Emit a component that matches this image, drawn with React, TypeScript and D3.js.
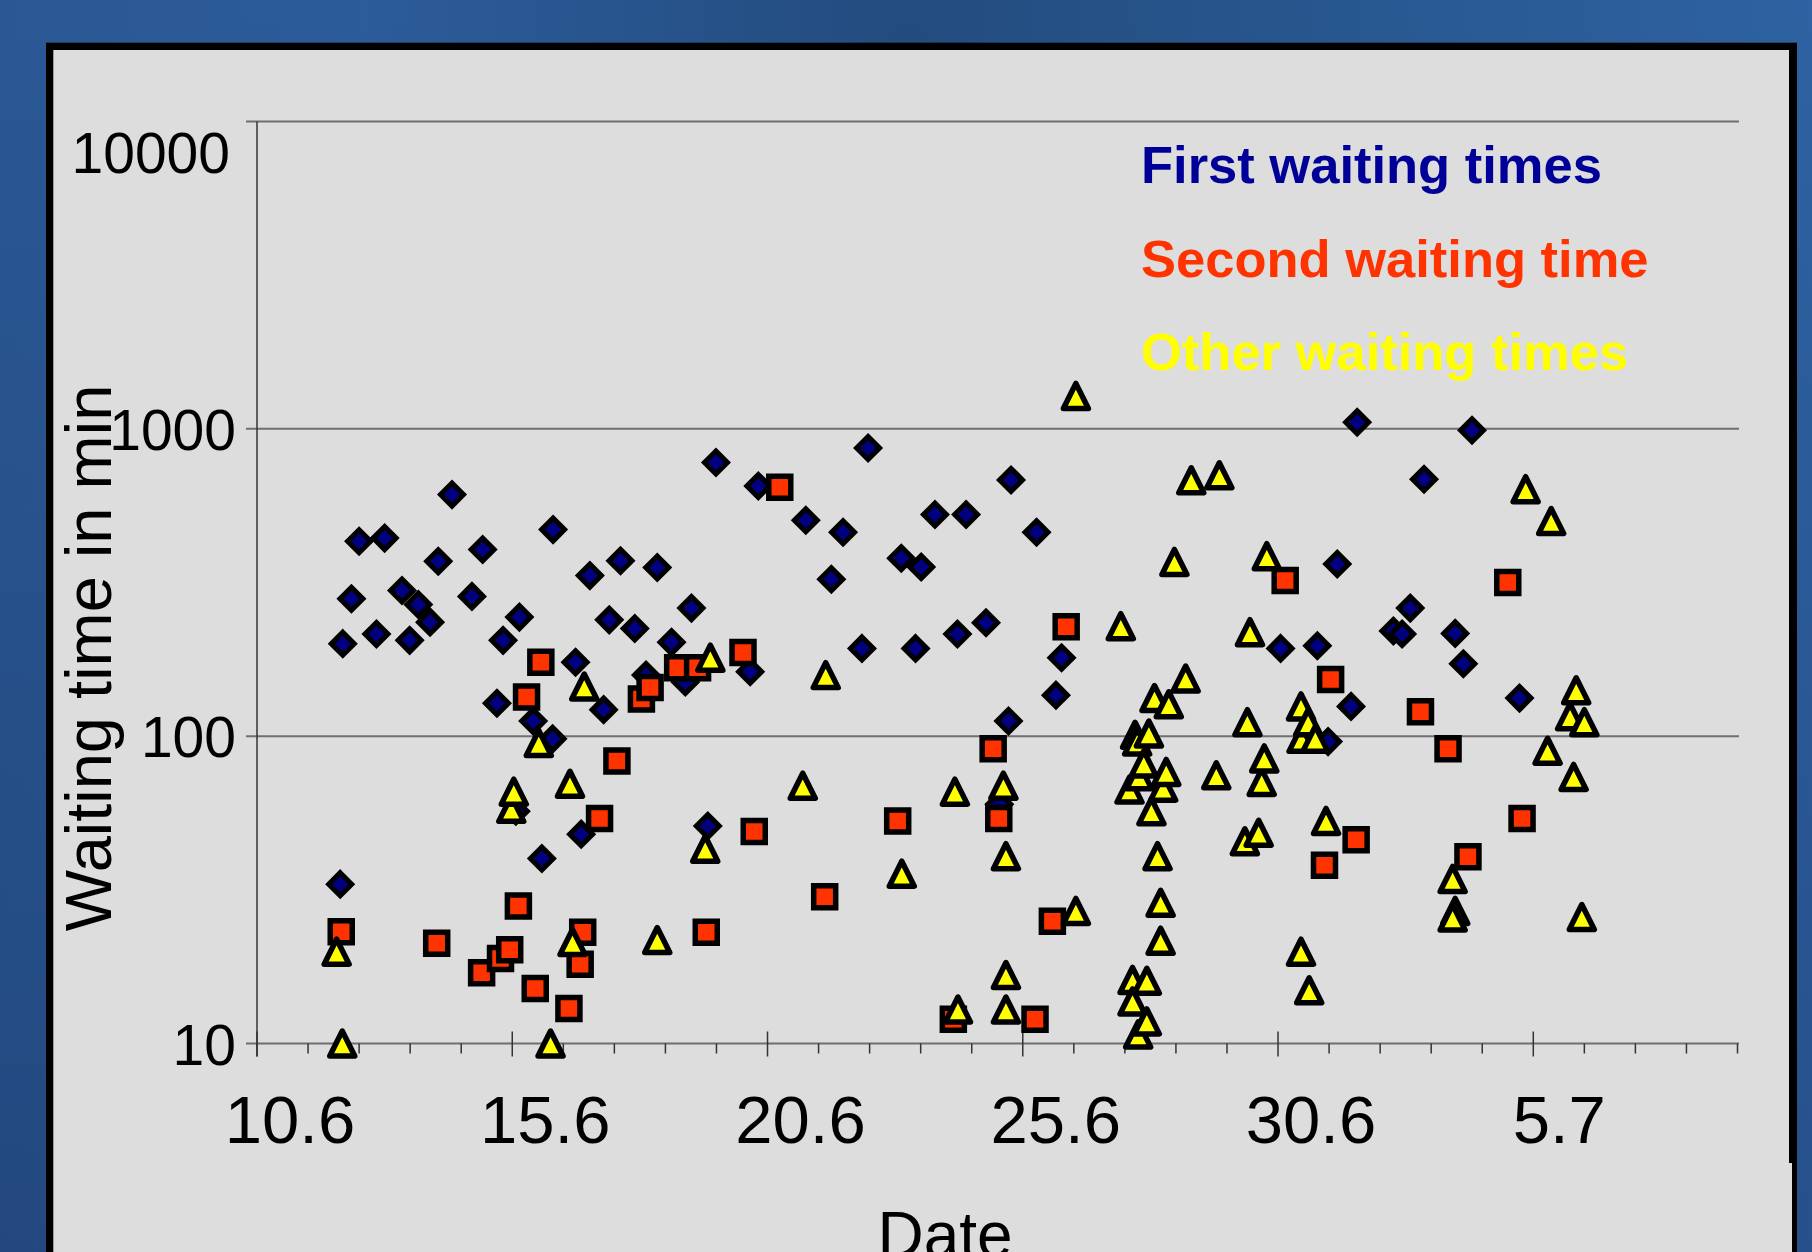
import * as d3 from 'd3';

// days counted from 1 June (35 = 5 July)
const dateTicks = [10, 15, 20, 25, 30, 35];
const dateLabels = ['10.6', '15.6', '20.6', '25.6', '30.6', '5.7'];
const valueTicks = [10, 100, 1000, 10000];
const valueLabels = ['10', '100', '1000', '10000'];

// [day, minutes]
const firstWaiting: [number, number][] = [
  [11.68, 200], [11.85, 280], [12.0, 431], [12.34, 215], [12.5, 441], [12.84, 298], [12.99, 205],
  [13.16, 268], [13.39, 235], [13.55, 371], [13.82, 611], [14.21, 285], [14.42, 405], [14.7, 128],
  [14.82, 205], [15.14, 244], [15.41, 112], [15.79, 98], [15.8, 470], [16.24, 174], [16.52, 333],
  [16.79, 122], [16.9, 239], [17.12, 372], [17.4, 224], [17.62, 158], [17.84, 354], [18.12, 202],
  [18.39, 150], [18.51, 261], [18.99, 777], [19.66, 162], [19.82, 652], [20.75, 504], [21.25, 324],
  [21.48, 461], [21.85, 193], [21.97, 866], [22.62, 379], [22.9, 193], [23.01, 355], [23.28, 526],
  [23.72, 215], [23.89, 526], [24.28, 234], [24.72, 112], [24.77, 682], [25.27, 461], [25.65, 136],
  [25.76, 180], [24.54, 60], [11.63, 33], [15.07, 57], [15.58, 40], [16.35, 48], [18.83, 51],
  [30.05, 193], [30.77, 197], [30.98, 96], [31.16, 363], [31.43, 125], [31.55, 1051], [32.26, 220],
  [32.43, 215], [32.59, 261], [32.86, 685], [33.47, 216], [33.63, 172], [33.8, 990], [34.73, 133],
];

const secondWaiting: [number, number][] = [
  [11.65, 23.1], [13.52, 21.2], [14.4, 17], [14.77, 18.9], [14.95, 20.2], [15.12, 28], [15.28, 134],
  [15.45, 15.1], [15.56, 174], [16.11, 13], [16.33, 18.1], [16.38, 23], [16.71, 54], [17.05, 83],
  [17.53, 132], [17.7, 144], [18.24, 167], [18.63, 167], [18.8, 23], [19.52, 187], [19.74, 49],
  [20.24, 645], [21.12, 30], [22.55, 53], [23.64, 12], [24.42, 91], [24.53, 54], [25.24, 12],
  [25.58, 25], [25.85, 227], [30.14, 321], [30.91, 38], [31.03, 153], [31.53, 46], [32.79, 120],
  [33.33, 91], [33.72, 40.5], [34.5, 316], [34.78, 54],
];

const otherWaiting: [number, number][] = [
  [11.56, 19.9], [11.67, 10], [14.98, 58], [15.03, 66], [15.52, 95], [15.75, 10], [16.13, 70],
  [16.18, 21.4], [16.41, 145], [17.84, 21.7], [18.78, 43], [18.88, 180], [20.69, 69], [21.14, 158],
  [22.63, 35.7], [23.67, 66], [23.73, 12.9], [24.62, 69], [24.67, 40.7], [24.67, 16.7], [24.67, 12.9],
  [26.04, 1279], [26.04, 27], [26.92, 228], [27.09, 67], [27.15, 16.1], [27.15, 13.7], [27.2, 101],
  [27.24, 96], [27.26, 10.7], [27.28, 74], [27.37, 81.5], [27.43, 16], [27.43, 11.8], [27.47, 102],
  [27.52, 57], [27.58, 133], [27.64, 40.7], [27.7, 28.7], [27.7, 21.6], [27.75, 68], [27.81, 76.5],
  [27.86, 127], [27.97, 369], [28.19, 154], [28.3, 680], [28.79, 74.6], [28.85, 706], [29.35, 45.5],
  [29.4, 111], [29.45, 218], [29.62, 48.5], [29.68, 71], [29.73, 84.6], [29.78, 385], [30.45, 125],
  [30.45, 19.9], [30.46, 98], [30.59, 111], [30.61, 14.9], [30.73, 98], [30.94, 53], [33.42, 34.3],
  [33.47, 27], [33.42, 25.7], [34.85, 636], [35.35, 501], [35.28, 89.6], [35.72, 116], [35.79, 73.7],
  [35.84, 141], [35.95, 25.8], [36.0, 111],
];

const W = 1812;
const H = 1252;
const FONT = 'Liberation Sans, Arial, Helvetica, sans-serif';

const diamond = (r: number) => `M0,${-r}L${r},0L0,${r}L${-r},0Z`;
const square = (r: number) => `M${-r},${-r}H${r}V${r}H${-r}Z`;
const triangle = (r: number) => `M0,${-r}L${r},${r}L${-r},${r}Z`;

export default function App() {
  const x = d3.scaleLinear().domain([10, 39]).range([257, 1737.5]);
  const y = d3.scaleLog().domain([10, 10000]).range([1043.5, 121.5]);
  const minorDays = d3.range(10, 40).filter((d) => !dateTicks.includes(d));
  const axisY = y(10);
  const x0 = x(10);
  const x1 = 1739;

  const series = [
    { data: firstWaiting, path: diamond(11.5), fill: '#000080', sw: 5, join: 'miter' },
    { data: secondWaiting, path: square(11), fill: '#ff3300', sw: 5.5, join: 'miter' },
    { data: otherWaiting, path: triangle(12.5), fill: '#ffff00', sw: 5.5, join: 'round' },
  ];

  const legend = [
    { text: 'First waiting times', color: '#000099' },
    { text: 'Second waiting time', color: '#ff3300' },
    { text: 'Other waiting times', color: '#ffff00' },
  ];

  return (
    <div style={{ position: 'absolute', left: 0, top: 0, width: W, height: H, overflow: 'hidden' }}>
      <svg width={W} height={H} style={{ display: 'block' }} fontFamily={FONT}>
        <defs>
          <linearGradient id="bgH" x1="0" x2="1" y1="0" y2="0">
            <stop offset="0" stopColor="#2a5894" />
            <stop offset="0.2" stopColor="#2c5c9a" />
            <stop offset="0.5" stopColor="#234c7f" />
            <stop offset="0.75" stopColor="#285890" />
            <stop offset="1" stopColor="#2e62a2" />
          </linearGradient>
          <linearGradient id="bgV" x1="0" x2="0" y1="0" y2="1">
            <stop offset="0" stopColor="#000020" stopOpacity="0" />
            <stop offset="1" stopColor="#000020" stopOpacity="0.18" />
          </linearGradient>
        </defs>
        <rect width={W} height={H} fill="url(#bgH)" />
        <rect width={W} height={H} fill="url(#bgV)" />

        {/* panel */}
        <rect x={46} y={42.7} width={1751} height={1300} fill="#000" />
        <rect x={53.3} y={50} width={1735.7} height={1300} fill="#dddddd" />
        <rect x={1789} y={1163} width={3} height={100} fill="#dddddd" />

        {/* gridlines + y ticks */}
        {valueTicks.map((v) => (
          <line key={v} x1={x0 - 11} x2={x1} y1={y(v)} y2={y(v)} stroke="#6f6f6f" strokeWidth={2} />
        ))}
        <line x1={x0} x2={x0} y1={y(10000)} y2={axisY + 13} stroke="#333" strokeWidth={1.5} />

        {/* x ticks */}
        {minorDays.map((d) => (
          <line key={d} x1={x(d)} x2={x(d)} y1={axisY} y2={axisY + 10} stroke="#333" strokeWidth={1.5} />
        ))}
        {dateTicks.map((d) => (
          <line key={d} x1={x(d)} x2={x(d)} y1={axisY - 12} y2={axisY + 13} stroke="#333" strokeWidth={1.5} />
        ))}

        {/* tick labels */}
        {valueTicks.map((v, i) => {
          const top = v === 10000;
          return (
            <text
              key={v}
              x={top ? 230 : 236}
              y={Math.max(y(v), y(10000) + 30) + 21}
              textAnchor="end"
              fontSize={57}
              fill="#000"
            >
              {valueLabels[i]}
            </text>
          );
        })}
        {dateTicks.map((d, i) => (
          <text key={d} x={x(d) + (i === dateTicks.length - 1 ? 26 : 33)} y={1143} textAnchor="middle" fontSize={67} fill="#000">
            {dateLabels[i]}
          </text>
        ))}

        {/* axis titles */}
        <text transform="translate(111,658) rotate(-90)" textAnchor="middle" fontSize={65} fill="#000">
          Waiting time in min
        </text>
        <text x={945} y={1257} textAnchor="middle" fontSize={64} fill="#000">
          Date
        </text>

        {/* markers */}
        {series.map((s, si) => (
          <g key={si}>
            {s.data.map(([d, v], i) => (
              <path
                key={i}
                d={s.path}
                transform={`translate(${x(d)},${y(v)})`}
                fill={s.fill}
                stroke="#000"
                strokeWidth={s.sw}
                strokeLinejoin={s.join as any}
              />
            ))}
          </g>
        ))}

        {/* legend */}
        {legend.map((l, i) => (
          <text key={l.text} x={1141} y={183 + i * 93.5} fontSize={52.5} fontWeight="bold" fill={l.color}>
            {l.text}
          </text>
        ))}
      </svg>
    </div>
  );
}
